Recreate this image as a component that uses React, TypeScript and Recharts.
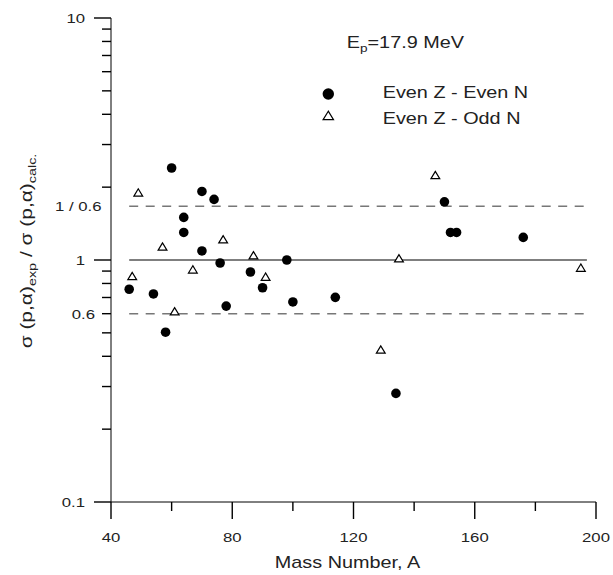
import React from 'react';
import { ScatterChart, Scatter, XAxis, YAxis } from 'recharts';

// ---- data ----
const evenEvenA = [46, 54, 58, 60, 64, 64, 70, 70, 74, 76, 78, 86, 90, 98, 100, 114, 134, 150, 152, 154, 176];
const evenEvenRatio = [0.757, 0.724, 0.503, 2.4, 1.5, 1.3, 1.92, 1.09, 1.78, 0.972, 0.645, 0.892, 0.768, 1.0, 0.671, 0.701, 0.281, 1.74, 1.3, 1.3, 1.24];
const evenOddA = [47, 49, 57, 61, 67, 77, 87, 91, 129, 135, 147, 195];
const evenOddRatio = [0.853, 1.89, 1.13, 0.61, 0.909, 1.21, 1.04, 0.848, 0.424, 1.01, 2.23, 0.924];

const seriesNames = ['Even Z - Even N', 'Even Z - Odd N'];
const titleMain = 'E';
const titleSub = 'p';
const titleRest = '=17.9 MeV';
const xAxisTitle = 'Mass Number, A';

const xTicks = [40, 60, 80, 100, 120, 140, 160, 180, 200];
const xLabeledTicks = [40, 80, 120, 160, 200];
const yTicks = [0.1, 0.2, 0.3, 0.4, 0.5, 0.6, 0.7, 0.8, 0.9, 1, 1 / 0.6, 2, 3, 4, 5, 6, 7, 8, 9, 10];
const yMajorTicks = [0.1, 1, 10];
const yLabelOnlyTicks = [1 / 0.6];
const yTickLabels: [number, string][] = [
  [0.1, '0.1'],
  [0.6, '0.6'],
  [1, '1'],
  [1 / 0.6, '1 / 0.6'],
  [10, '10'],
];
const guideA = [46, 197];
const unityRatio = [1, 1];
const bandLowRatio = [0.6, 0.6];
const bandHighRatio = [1 / 0.6, 1 / 0.6];

const evenEvenData = evenEvenA.map((a, i) => ({ a, r: evenEvenRatio[i] }));
const evenOddData = evenOddA.map((a, i) => ({ a, r: evenOddRatio[i] }));
const unityData = guideA.map((a, i) => ({ a, r: unityRatio[i] }));
const bandLowData = guideA.map((a, i) => ({ a, r: bandLowRatio[i] }));
const bandHighData = guideA.map((a, i) => ({ a, r: bandHighRatio[i] }));

const FONT = "'Liberation Sans', Arial, Helvetica, sans-serif";
const TXT = '#222';
const SX = 1.24;
const MINOR = 9;
const MARGIN = 2;
const MAJOR = 17;
const TW = 1.4;
const near = (a: number, b: number) => Math.abs(a - b) < 1e-6;

// tick marks drawn as filled rects; props x/y are the label anchor (axis +/- MINOR + MARGIN)
const renderXTick = (props: any) => {
  const x = Number(props.x);
  const axisY = Number(props.y) - MINOR - MARGIN;
  const v = props.payload.value;
  const major = xLabeledTicks.some((t) => near(t, v));
  const len = major ? MAJOR : MINOR;
  return (
    <g>
      <rect x={x - TW / 2} y={axisY} width={TW} height={len} fill="#000" />
      {major && (
        <text
          transform={`translate(${x},${axisY + 40}) scale(${SX},1)`}
          textAnchor="middle"
          fontSize={13.5}
          fontFamily={FONT}
          fill={TXT}
        >
          {String(v)}
        </text>
      )}
    </g>
  );
};

const renderYTick = (props: any) => {
  const axisX = Number(props.x) + MINOR + MARGIN;
  const y = Number(props.y);
  const v = props.payload.value;
  const major = yMajorTicks.some((t) => near(t, v));
  const labelOnly = yLabelOnlyTicks.some((t) => near(t, v));
  const entry = yTickLabels.find(([t]) => near(t, v));
  const len = labelOnly ? 0 : major ? MAJOR : MINOR;
  const textEnd = labelOnly ? axisX - 9.5 : major ? axisX - MAJOR - 9 : axisX - MINOR - 7;
  return (
    <g>
      {len > 0 && <rect x={axisX - len} y={y - TW / 2} width={len} height={TW} fill="#000" />}
      {entry && (
        <text
          transform={`translate(${textEnd},${y}) scale(${SX},1)`}
          textAnchor="end"
          dy="0.36em"
          fontSize={13.5}
          fontFamily={FONT}
          fill={TXT}
        >
          {entry[1]}
        </text>
      )}
    </g>
  );
};

const Circle = (props: any) => {
  const { cx, cy } = props;
  return <circle cx={cx} cy={cy} r={4.8} fill="#000" />;
};

const Triangle = (props: any) => {
  const { cx, cy } = props;
  const pts = `${cx},${cy - 4.3} ${cx - 4.4},${cy + 3} ${cx + 4.4},${cy + 3}`;
  return <polygon points={pts} fill="#fff" stroke="#000" strokeWidth={1.2} />;
};

const NoMarker = () => <g />;

const Overlay = () => (
  <svg
    width={613}
    height={575}
    style={{ position: 'absolute', left: 0, top: 0, pointerEvents: 'none' }}
  >
    <text transform={`translate(346.7,48.3) scale(${SX},1)`} fontSize={16} fontFamily={FONT} fill={TXT}>
      {titleMain}
      <tspan fontSize={11} dy={4}>{titleSub}</tspan>
      <tspan dy={-4}>{titleRest}</tspan>
    </text>
    <circle cx={328.3} cy={94} r={5.7} fill="#000" />
    <text transform={`translate(382.7,98.3) scale(${SX},1)`} fontSize={16} fontFamily={FONT} fill={TXT}>
      {seriesNames[0]}
    </text>
    <polygon points="328.3,111.2 323.1,119.6 333.5,119.6" fill="#fff" stroke="#000" strokeWidth={1.2} />
    <text transform={`translate(382.7,124) scale(${SX},1)`} fontSize={16} fontFamily={FONT} fill={TXT}>
      {seriesNames[1]}
    </text>
    <text
      transform={`translate(347.5,568) scale(${SX},1)`}
      textAnchor="middle"
      fontSize={16}
      fontFamily={FONT}
      fill={TXT}
    >
      {xAxisTitle}
    </text>
    <text
      transform="translate(32,251) rotate(-90) scale(1.31,1)"
      textAnchor="middle"
      fontSize={16}
      fontFamily={FONT}
      fill={TXT}
    >
      σ (p,α)
      <tspan fontSize={11} dy={4}>exp</tspan>
      <tspan dy={-4}> / σ (p,α)</tspan>
      <tspan fontSize={11} dy={4}>calc.</tspan>
    </text>
  </svg>
);

export default function App() {
  return (
    <div style={{ position: 'absolute', left: 0, top: 0, width: 613, height: 575 }}>
      <ScatterChart width={613} height={575} margin={{ top: 18, right: 17, bottom: 13, left: 0 }}>
        <XAxis
          type="number"
          dataKey="a"
          domain={[40, 200]}
          ticks={xTicks}
          interval={0}
          height={60}
          tickSize={MINOR}
          stroke="#000"
          tickLine={false}
          tick={renderXTick}
        />
        <YAxis
          type="number"
          dataKey="r"
          scale="log"
          domain={[0.1, 10]}
          ticks={yTicks}
          interval={0}
          allowDataOverflow
          width={111}
          tickSize={MINOR}
          stroke="#000"
          tickLine={false}
          tick={renderYTick}
        />
        <Scatter
          data={bandHighData}
          line={{ stroke: '#777', strokeWidth: 1.5, strokeDasharray: '9 7.5' }}
          shape={<NoMarker />}
          legendType="none"
          isAnimationActive={false}
        />
        <Scatter
          data={bandLowData}
          line={{ stroke: '#777', strokeWidth: 1.5, strokeDasharray: '9 7.5' }}
          shape={<NoMarker />}
          legendType="none"
          isAnimationActive={false}
        />
        <Scatter
          data={unityData}
          line={{ stroke: '#000', strokeWidth: 1.1 }}
          shape={<NoMarker />}
          legendType="none"
          isAnimationActive={false}
        />
        <Scatter name={seriesNames[0]} data={evenEvenData} fill="#000" shape={<Circle />} isAnimationActive={false} />
        <Scatter name={seriesNames[1]} data={evenOddData} fill="#fff" shape={<Triangle />} isAnimationActive={false} />
      </ScatterChart>
      <Overlay />
    </div>
  );
}
